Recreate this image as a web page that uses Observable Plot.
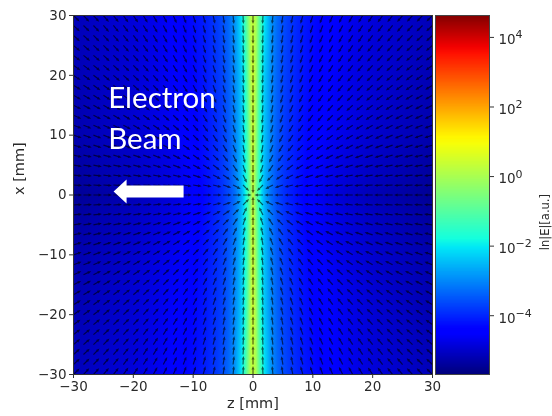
<!DOCTYPE html>
<html>
<head>
<meta charset="utf-8">
<script src="https://cdn.jsdelivr.net/npm/d3@7"></script>
<script src="https://cdn.jsdelivr.net/npm/@observablehq/plot@0.6"></script>
<style>
html,body{margin:0;padding:0;background:#fff}
#chart{position:relative;width:552px;height:416px;overflow:hidden}
#chart svg{position:absolute;left:0;top:0;background:transparent;filter:blur(0.35px)}
</style>
</head>
<body>
<div id="chart"></div>
<script>
// Field strength, log10 |E|
const zAbs = [0, 0.5, 1, 1.5, 2, 3, 4, 5, 6, 8, 10, 13, 16, 20, 25, 30];
const xAbs = [0, 3, 10, 20, 30];
const logE_x0  = [0.30, -0.74, -1.56, -2.25, -2.70, -3.30, -3.65, -3.90, -4.08, -4.35, -4.58, -4.85, -5.02, -5.20, -5.35, -5.50];
const logE_x3  = [0.50, -0.53, -1.46, -2.15, -2.60, -3.20, -3.60, -3.85, -4.02, -4.30, -4.53, -4.76, -4.92, -5.10, -5.25, -5.42];
const logE_x10 = [0.50, -0.32, -1.36, -2.05, -2.50, -3.10, -3.50, -3.78, -3.97, -4.25, -4.45, -4.65, -4.80, -4.98, -5.13, -5.28];
const logE_x20 = [0.50, -0.12, -1.15, -1.95, -2.40, -3.00, -3.40, -3.70, -3.88, -4.18, -4.38, -4.55, -4.74, -4.93, -5.08, -5.23];
const logE_x30 = [0.30, -0.01, -0.84, -1.60, -2.15, -2.88, -3.30, -3.60, -3.80, -4.10, -4.30, -4.50, -4.69, -4.88, -5.03, -5.18];
const logE = [logE_x0, logE_x3, logE_x10, logE_x20, logE_x30];

// Arrow directions: degrees from the horizontal, one quadrant, read by grid step
const arrowSteps = [0,1.667,3.333,5,6.667,8.333,10,11.667,13.333,15,16.667,18.333,20,21.667,23.333,25,26.667,28.333,30];
const arrowAngle = [
[null,0,0,0,0,0,0,0,0,0,0,0,0,0,0,0,0,0,0],
[90,45,27,18,14,11,9,8,7,6,6,5,5,4,4,4,4,3,3],
[90,63,45,34,27,22,18,16,14,13,11,10,9,9,8,8,7,7,6],
[90,72,56,45,37,31,27,23,21,18,17,15,14,13,12,11,11,10,9],
[90,76,63,53,45,39,34,30,27,24,22,20,18,17,16,15,14,13,13],
[90,79,68,59,51,45,40,36,32,29,27,24,23,21,20,18,17,16,16],
[90,81,72,63,56,50,45,41,37,34,31,29,27,25,23,22,21,19,18],
[90,82,74,67,60,54,49,45,41,38,35,32,30,28,27,25,24,22,21],
[90,83,76,69,63,58,53,49,45,42,39,36,34,32,30,28,27,25,24],
[90,84,77,72,66,61,56,52,48,45,42,39,37,35,33,31,29,28,27],
[90,84,79,73,68,63,59,55,51,48,45,42,40,38,36,34,32,30,29],
[90,85,80,75,70,66,61,58,54,51,48,45,42,40,38,36,35,33,31],
[90,85,81,76,72,67,63,60,56,53,50,48,45,43,41,39,37,35,34],
[90,86,81,77,73,69,65,62,58,55,52,50,47,45,43,41,39,37,36],
[90,86,82,78,74,70,67,63,60,57,54,52,49,47,45,43,41,39,38],
[90,86,82,79,75,72,68,65,62,59,56,54,51,49,47,45,43,41,40],
[90,86,83,79,76,73,69,66,63,61,58,56,53,51,49,47,45,43,42],
[90,87,83,80,77,74,71,68,65,62,60,57,55,53,51,49,47,45,43],
[90,87,84,81,77,74,72,69,66,63,61,59,56,54,52,50,48,47,45]
];

const axisTicks = [-30,-20,-10,0,10,20,30];
const barTicks = [1e-4,1e-2,1,1e2,1e4];
const barExponents = ["−4","−2","0","2","4"];
const logMin = -5.69, logMax = 4.63;
const jetStops = [0,.11,.125,.35,.375,.64,.66,.89,.91,1];
const jetColors = ["#00007f","#0000ff","#0000ff","#00e6f7","#14ffde","#f7ff08","#fff500","#ff1200","#f20000","#7f0000"];
const colorOpts = {type:"linear", domain: jetStops.map(f => logMin + f*(logMax-logMin)), range: jetColors, clamp:true};

const cells = [];
xAbs.forEach((x,r) => zAbs.forEach((z,c) => {
  for (const sz of z ? [-1,1] : [1]) for (const sx of x ? [-1,1] : [1])
    cells.push({z: sz*z, x: sx*x, v: logE[r][c]});
}));

const vectors = [];
arrowSteps.forEach((ax,j) => arrowSteps.forEach((az,i) => {
  const a = arrowAngle[j][i];
  if (a == null) return;
  for (const sz of az ? [-1,1] : [-1]) for (const sx of ax ? [-1,1] : [1]) {
    let rot;
    if (i === 0) rot = sx > 0 ? 180 : 0;
    else if (sz < 0) rot = sx > 0 ? 90 + a : 90 - a;
    else rot = sx > 0 ? 270 - a : 270 + a;
    vectors.push({z: sz*az, x: sx*ax, rot});
  }
}));

const beamShape = {draw(ctx, l){
  ctx.moveTo(-6,0); ctx.lineTo(-6,-l+13); ctx.lineTo(-12,-l+13); ctx.lineTo(0,-l);
  ctx.lineTo(12,-l+13); ctx.lineTo(6,-l+13); ctx.lineTo(6,0); ctx.closePath();
}};
const quiverShape = {draw(ctx, l){
  ctx.moveTo(-0.6,0); ctx.lineTo(-0.6,-l+3.5); ctx.lineTo(-1.5,-l+3.5); ctx.lineTo(0,-l);
  ctx.lineTo(1.5,-l+3.5); ctx.lineTo(0.6,-l+3.5); ctx.lineTo(0.6,0); ctx.closePath();
}};

const tickFont = {fontSize:13.5, fill:"#2a2a2a"};
const main = Plot.plot({
  width:552, height:416, marginLeft:73, marginRight:120, marginTop:15, marginBottom:42,
  style:{fontFamily:"DejaVu Sans", background:"transparent", overflow:"visible"},
  x:{domain:[-30,30]}, y:{domain:[-30,30]}, color:colorOpts,
  marks:[
    Plot.raster(cells,{x:"z",y:"x",fill:"v",x1:-30,x2:30,y1:-30,y2:30,interpolate:"barycentric",pixelSize:1}),
    Plot.vector(vectors,{x:"z",y:"x",rotate:"rot",length:8.5,anchor:"start",shape:quiverShape,fill:"#000",fillOpacity:0.62,stroke:"none",clip:true}),
    Plot.frame({stroke:"#333",strokeWidth:1}),
    Plot.axisX({ticks:axisTicks,tickSize:4,tickPadding:3,label:null,stroke:"#333",...tickFont}),
    Plot.axisY({ticks:axisTicks,tickSize:4,tickPadding:3,label:null,stroke:"#333",...tickFont}),
    Plot.text(["z [mm]"],{frameAnchor:"bottom",dy:33,fontSize:14.5,fill:"#2a2a2a"}),
    Plot.text(["x [mm]"],{frameAnchor:"left",rotate:-90,dx:-54,fontSize:14.5,fill:"#2a2a2a"}),
    Plot.text(["Electron"],{x:-24.2,y:16.1,textAnchor:"start",fontFamily:"Lato",fontSize:29.5,fill:"#fff"}),
    Plot.text(["Beam"],{x:-24.2,y:9.2,textAnchor:"start",fontFamily:"Lato",fontSize:29.5,fill:"#fff"}),
    Plot.vector([{z:-11.6,x:0.6}],{x:"z",y:"x",rotate:270,length:70,anchor:"start",shape:beamShape,fill:"#fff",stroke:"none"})
  ]
});

const levels = d3.range(logMin, logMax, 0.04);
const bar = Plot.plot({
  width:552, height:416, marginLeft:435, marginRight:63, marginTop:15, marginBottom:42,
  style:{fontFamily:"DejaVu Sans", background:"transparent", overflow:"visible"},
  x:{domain:[0,1],axis:null}, y:{type:"log",domain:[10**logMin,10**logMax],axis:null}, color:colorOpts,
  marks:[
    Plot.rect(levels,{x1:0,x2:1,y1:d=>10**d,y2:d=>10**Math.min(d+0.1,logMax),fill:d=>d}),
    Plot.frame({stroke:"#444",strokeWidth:1}),
    Plot.axisY({anchor:"right",ticks:barTicks,tickFormat:()=>"",tickSize:4,label:null,stroke:"#333"}),
    Plot.text(barTicks,{y:d=>d,frameAnchor:"right",text:()=>"10",textAnchor:"start",dx:9,dy:2.5,fontSize:13.5,fill:"#2a2a2a"}),
    Plot.text(barTicks,{y:d=>d,frameAnchor:"right",text:(d,i)=>barExponents[i],textAnchor:"start",dx:26,dy:-2.5,fontSize:11,fill:"#2a2a2a"}),
    Plot.text(["ln|E|[a.u.]"],{frameAnchor:"right",rotate:-90,dx:56,dy:-1,fontSize:11.5,fill:"#2a2a2a"})
  ]
});

document.getElementById("chart").append(main, bar);
</script>
</body>
</html>
